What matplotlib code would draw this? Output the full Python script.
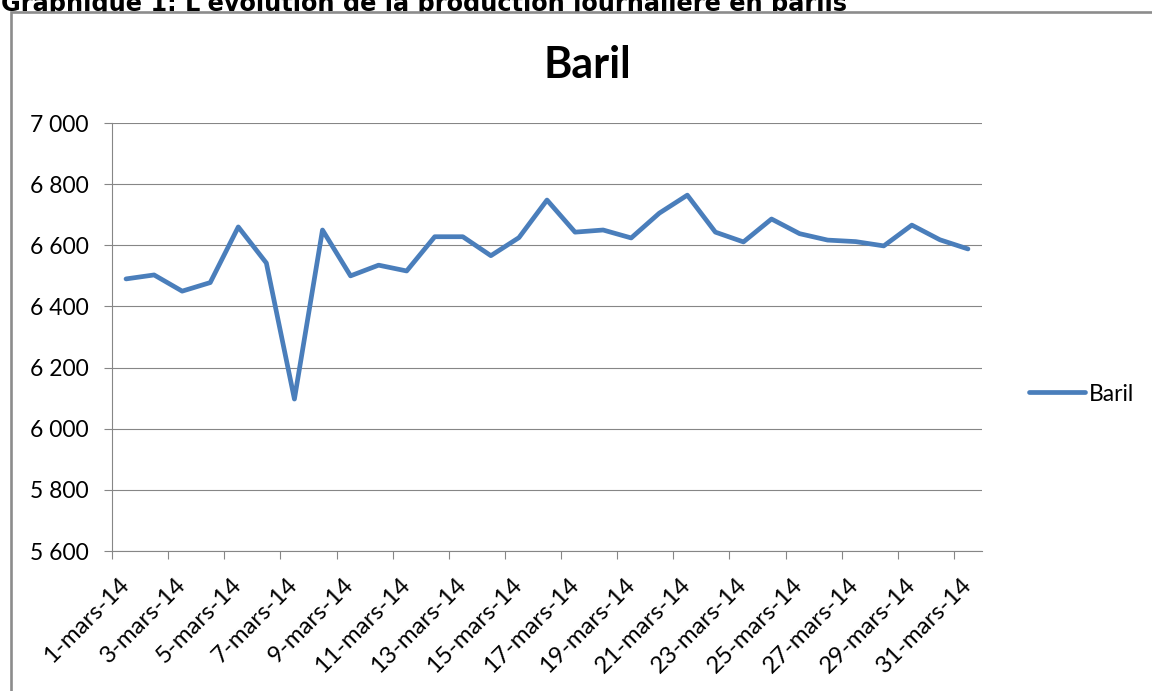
import matplotlib
matplotlib.use("Agg")
import matplotlib.pyplot as plt
from matplotlib.patches import Rectangle
from matplotlib.ticker import FixedLocator, FuncFormatter

days = list(range(1, 32))
day_labels = [f"{d}-mars-14" for d in days]
baril = [6490, 6503, 6450, 6478, 6660, 6542, 6097, 6650, 6500, 6535,
         6516, 6628, 6628, 6566, 6625, 6748, 6643, 6650, 6624, 6705,
         6764, 6643, 6611, 6686, 6638, 6617, 6612, 6598, 6666, 6618, 6588]

W, H = 1152, 691
fig = plt.figure(figsize=(W / 100, H / 100), dpi=100)
fig.patch.set_facecolor("white")

# caption above the chart, partly hidden by the chart frame
fig.text(1 / W, 1 - 11 / H,
         "Graphique 1: L'évolution de la production journalière en barils",
         family="DejaVu Sans", fontweight="bold", fontsize=17.3,
         va="baseline", ha="left", zorder=0.5)

# chart frame
frame = Rectangle((11 / W, -0.5), 2, (1 - 12 / H) + 0.5,
                  transform=fig.transFigure, facecolor="white",
                  edgecolor="#8c8c8c", lw=1.9, zorder=0.7)
fig.add_artist(frame)

ax = fig.add_axes([112 / W, 1 - 551 / H, 870 / W, 428 / H])
ax.set_zorder(1)
ax.set_facecolor("none")
ax.plot(days, baril, color="#4a7ebb", lw=3.4, label="Baril",
        solid_joinstyle="round", solid_capstyle="round", zorder=3)

ax.set_xlim(0.5, 31.5)
ax.set_ylim(5600, 7000)
ax.set_yticks(range(5600, 7001, 200))
ax.yaxis.set_major_formatter(FuncFormatter(lambda v, p: f"{v:,.0f}".replace(",", " ")))

ax.xaxis.set_major_locator(FixedLocator([d - 0.5 for d in days[::2]]))
ax.xaxis.set_minor_locator(FixedLocator(days[::2]))
ax.set_xticklabels([], minor=False)
ax.set_xticklabels(day_labels[::2], minor=True)

ax.grid(axis="y", color="#868686", lw=0.8)
ax.set_axisbelow(True)
for s in ["top", "right"]:
    ax.spines[s].set_visible(False)
for s in ["left", "bottom"]:
    ax.spines[s].set_color("#868686")
    ax.spines[s].set_linewidth(0.8)

ax.tick_params(axis="y", length=6, width=0.8, color="#868686", pad=11,
               labelsize=16.5, labelcolor="black")
ax.tick_params(axis="x", which="major", length=6, width=0.8, color="#868686")
ax.tick_params(axis="x", which="minor", length=0, pad=22,
               labelsize=17.3, labelcolor="black")
for lab in ax.get_yticklabels():
    lab.set_family("Lato")
for lab in ax.get_xticklabels(minor=True):
    lab.set_family("Lato")
    lab.set_rotation(45)
    lab.set_ha("right")
    lab.set_va("center")
    lab.set_rotation_mode("anchor")

fig.text(587 / W, 1 - 78 / H, "Baril", family="Lato", fontweight="bold",
         fontsize=31, ha="center", va="baseline")

fig.legend(loc="center left", bbox_to_anchor=(1029 / W, 1 - 394 / H),
           frameon=False, borderpad=0, borderaxespad=0, handlelength=2.45,
           handletextpad=0.15, prop={"family": "Lato", "size": 16.5})

fig.savefig("out.png", dpi=100)
